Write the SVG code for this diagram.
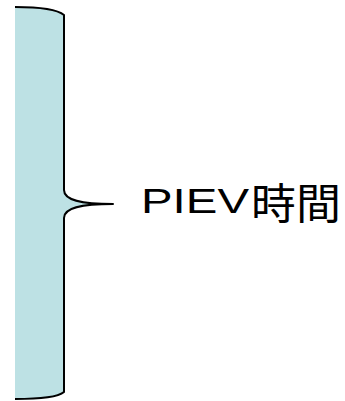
<svg xmlns="http://www.w3.org/2000/svg" width="345" height="401" viewBox="0 0 345 401">
<style>
.fill{fill:#bde1e4;stroke:none}
.edge{fill:none;stroke:#000;stroke-width:2;stroke-linejoin:round}
.lat{font-family:"Liberation Sans",Arial,sans-serif;font-size:35px;fill:#000}
.cjk{font-family:"Noto Sans CJK TC","Noto Sans CJK SC",sans-serif;font-size:42px;fill:#000}
</style>
<g id="brace">
<path class="fill" d="M15,7 C40,7 58,10 64,15 L64,190 C64,200 80,204 113,204 C80,204 64,208 64,218 L64,392 C58,397 40,399 15,399 Z"/>
<path class="edge" d="M15,7 C40,7 58,10 64,15 L64,190 C64,200 80,204 113,204 C80,204 64,208 64,218 L64,392 C58,397 40,399 15,399"/>
</g>
<g id="label">
<text class="lat" x="141" y="213" textLength="108" lengthAdjust="spacingAndGlyphs">PIEV</text>
<text class="cjk" x="251" y="219" textLength="90" lengthAdjust="spacingAndGlyphs">時間</text>
</g>
</svg>
